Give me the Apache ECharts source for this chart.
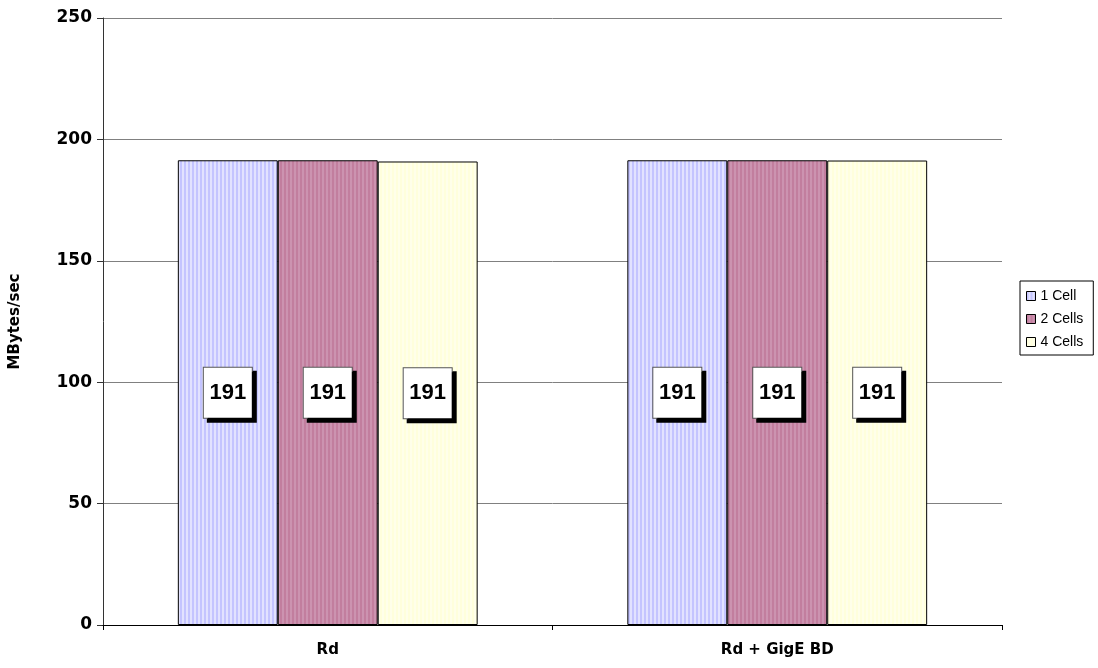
<!DOCTYPE html>
<html>
<head>
<meta charset="utf-8">
<script src="https://cdn.jsdelivr.net/npm/echarts@6/dist/echarts.min.js"></script>
<style>
  html, body { margin: 0; padding: 0; background: #fff; }
  #main { width: 1098px; height: 668px; }
</style>
</head>
<body>
<div id="main"></div>
<script>
const categories = ['Rd', 'Rd + GigE BD']
const seriesNames = ['1 Cell', '2 Cells', '4 Cells']
const oneCell = [191.4, 191.4]
const twoCells = [191.4, 191.4]
const fourCells = [190.9, 191.3]
const yTicks = [0, 50, 100, 150, 200, 250]

// vertical stripe fill, like the old office hatch
const stripes = (a, b) => {
  const c = document.createElement('canvas')
  c.width = 4
  c.height = 4
  const ctx = c.getContext('2d')
  ctx.fillStyle = a
  ctx.fillRect(0, 0, 4, 4)
  ctx.fillStyle = b
  ctx.fillRect(2, 0, 2, 4)
  return { image: c, repeat: 'repeat' }
}

const fills = [
  stripes('#c4c4ff', '#e2e2ff'),
  stripes('#c27e9e', '#cc93b0'),
  stripes('#ffffdc', '#ffffea')
]

const boldFont = 'DejaVu Sans'

const makeSeries = (name, data, i) => ({
  name,
  type: 'bar',
  data,
  barGap: '0%',
  barCategoryGap: '33.3%',
  itemStyle: {
    color: fills[i],
    borderColor: '#000',
    borderWidth: 1
  },
  label: {
    show: true,
    position: 'inside',
    formatter: p => Math.round(p.value),
    fontFamily: 'Liberation Sans',
    fontWeight: 'bold',
    fontSize: 22,
    color: '#000',
    backgroundColor: '#fff',
    borderColor: '#555',
    borderWidth: 1,
    padding: [14, 6, 14, 6],
    width: 36,
    align: 'center',
    shadowColor: '#000',
    shadowOffsetX: 4,
    shadowOffsetY: 4,
    shadowBlur: 0
  }
})

const chart = echarts.init(document.getElementById('main'))
const option = {
  animation: false,
  grid: { left: 102, right: 96, top: 18, bottom: 43 },
  legend: {
    orient: 'vertical',
    left: 1020,
    top: 281,
    data: seriesNames,
    itemWidth: 9,
    itemHeight: 9,
    itemGap: 9,
    icon: 'rect',
    padding: [8, 10, 6, 6],
    borderColor: '#000',
    borderWidth: 1,
    backgroundColor: '#fff',
    itemStyle: { borderColor: '#000', borderWidth: 1 },
    textStyle: { fontFamily: 'Liberation Sans', fontSize: 14, color: '#000' }
  },
  xAxis: {
    type: 'category',
    data: categories,
    z: 5,
    axisLine: { lineStyle: { color: '#000', width: 1 } },
    axisTick: { show: true, length: 5, lineStyle: { color: '#000' } },
    axisLabel: {
      margin: 18,
      fontFamily: boldFont,
      fontWeight: 'bold',
      fontSize: 15,
      color: '#000'
    }
  },
  yAxis: {
    type: 'value',
    min: yTicks[0],
    max: yTicks[yTicks.length - 1],
    interval: 50,
    name: 'MBytes/sec',
    nameLocation: 'middle',
    nameGap: 80,
    nameTextStyle: { fontFamily: boldFont, fontWeight: 'bold', fontSize: 15, color: '#000' },
    axisLine: { show: true, lineStyle: { color: '#333', width: 1 } },
    axisTick: { show: true, length: 6, lineStyle: { color: '#333' } },
    axisLabel: {
      margin: 11,
      fontFamily: boldFont,
      fontWeight: 'bold',
      fontSize: 17,
      color: '#000'
    },
    splitLine: { lineStyle: { color: '#808080', width: 1 } }
  },
  series: [
    makeSeries(seriesNames[0], oneCell, 0),
    makeSeries(seriesNames[1], twoCells, 1),
    makeSeries(seriesNames[2], fourCells, 2)
  ]
}
chart.setOption(option)
</script>
</body>
</html>
